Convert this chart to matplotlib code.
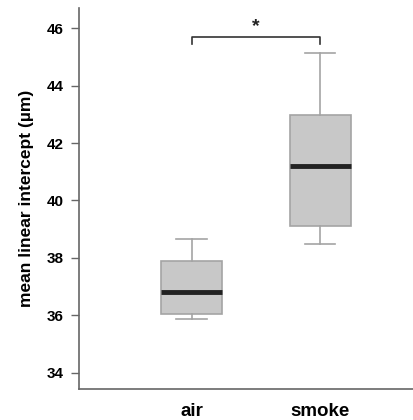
import matplotlib
matplotlib.use('Agg')
from matplotlib import pyplot as plt

groups = ['air', 'smoke']
q1 = [36.06, 39.11]
med = [36.8, 41.19]
q3 = [37.88, 42.98]
whislo = [35.86, 38.5]
whishi = [38.65, 45.12]
yticks = [34, 36, 38, 40, 42, 44, 46]

plt.rcParams['font.family'] = ['Liberation Sans', 'DejaVu Sans']
plt.rcParams['font.weight'] = 'bold'

fig = plt.figure(figsize=(4.14, 4.2), dpi=100)
ax = fig.add_axes([0.191, 0.074, 0.809, 0.907])

stats = []
for i in range(len(groups)):
    stats.append({'label': groups[i], 'q1': q1[i], 'med': med[i], 'q3': q3[i],
                  'whislo': whislo[i], 'whishi': whishi[i], 'fliers': []})

ax.bxp(stats, positions=[1, 2], widths=0.475, capwidths=0.235, patch_artist=True,
       showfliers=False,
       boxprops=dict(facecolor='#c8c8c8', edgecolor='#a4a4a4', linewidth=1.2),
       whiskerprops=dict(color='#a4a4a4', linewidth=1.2),
       capprops=dict(color='#a4a4a4', linewidth=1.2),
       medianprops=dict(color='#222222', linewidth=3.5, solid_capstyle='butt'))

# significance bracket
yb = 45.69
ax.plot([1, 1, 2, 2], [yb - 0.24, yb, yb, yb - 0.24], color='#333333', lw=1.2)
ax.text(1.5, yb + 0.08, '*', ha='center', va='bottom', fontsize=14, color='#222222')

ax.set_xlim(0.125, 2.73)
ax.set_ylim(33.44, 46.7)
ax.set_yticks(yticks)
ax.set_xticks([1, 2])
ax.set_xticklabels(groups, fontsize=13.5, fontweight='bold')
ax.tick_params(axis='x', length=0, pad=10)
ax.tick_params(axis='y', length=6, width=1, color='#666666', labelsize=11, pad=5)
for t in ax.get_yticklabels():
    t.set_fontweight('bold')
ax.set_ylabel('mean linear intercept (µm)', fontsize=12.5, fontweight='bold', labelpad=9)

ax.spines['top'].set_visible(False)
ax.spines['right'].set_visible(False)
ax.spines['left'].set_color('#666666')
ax.spines['bottom'].set_color('#666666')
ax.spines['left'].set_linewidth(1.2)
ax.spines['bottom'].set_linewidth(1.2)

plt.savefig('out.png', dpi=100)
